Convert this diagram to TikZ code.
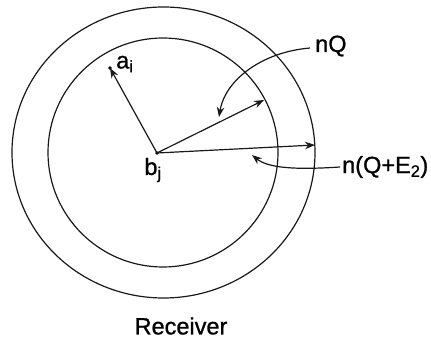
\documentclass[tikz,border=0pt]{standalone}
\usepackage{fontspec}
\setmainfont{Liberation Sans}
\newfontfamily\lblfont[FakeBold=1]{Liberation Sans}
\usetikzlibrary{arrows.meta}
\begin{document}
\begin{tikzpicture}[x=1pt,y=-1pt,
  line/.style={line width=1.2pt,black!90},
  arr/.style={line, -{Stealth[length=10pt,width=7.5pt]}},
  lbl/.style={inner sep=0pt,font=\lblfont\fontsize{23.5}{26}\selectfont}]
\useasboundingbox (0,0) rectangle (431,339);
\draw[line] (163.5,152.5) ellipse [x radius=151.5, y radius=145.5];
\draw[line] (163,152.5) ellipse [x radius=115, y radius=114.5];
\coordinate (bj) at (157,153);
\coordinate (ai) at (110,68);
\coordinate (pin) at (264,100);
\coordinate (pout) at (315,145);
\fill (bj) circle (1.8);
\fill (ai) circle (1.8);
\node[lbl,anchor=west] (ailbl) at (116,64) {a\textsubscript{i}};
\node[lbl] (bjlbl) at (153,170) {b\textsubscript{j}};
\draw[arr] (bj) -- (ai);
\draw[arr] (bj) -- (pin);
\draw[arr] (bj) -- (pout);
\node[lbl,anchor=west] (nq) at (315,46) {nQ};
\node[lbl,anchor=west] (nqe) at (342,167) {n(Q+E\textsubscript{2})};
\draw[arr] (nq.west) ++(-5,2) coordinate (nqs) .. controls (262,52) and (225,80) .. (219,117);
\draw[arr] (nqe.west) ++(-2,0) coordinate (nqes) .. controls (295,170) and (268,168) .. (252,155);
\node[lbl] (rec) at (181,326) {Receiver};
\end{tikzpicture}
\end{document}
